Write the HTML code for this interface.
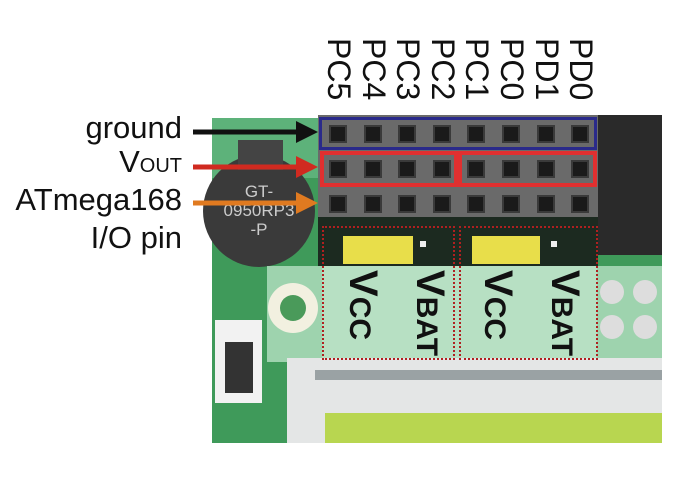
<!DOCTYPE html>
<html><head><style>
body{margin:0;width:700px;height:500px;background:#fff;position:relative;overflow:hidden;font-family:"Liberation Sans",sans-serif}
.a{position:absolute}
.pin{position:absolute;width:14px;height:14px;background:#1a1a1a;border:2px solid #3a3a3a}
.lbl{position:absolute;font-size:31px;color:#111;text-align:right;right:518px;line-height:32px}
.col{position:absolute;top:38px;font-size:32px;line-height:32px;transform-origin:0 0;transform:rotate(90deg);color:#111;white-space:nowrap}
.big{position:absolute;font-weight:bold;font-size:40px;color:#111;transform-origin:0 0;transform:rotate(90deg);white-space:nowrap}
</style></head><body>
<div class="a" style="left:212px;top:118px;width:450px;height:325px;background:#3f9a5a"></div>
<div class="a" style="left:212px;top:118px;width:110px;height:60px;background:#5db27a"></div>
<div class="a" style="left:203px;top:155px;width:112px;height:112px;border-radius:50%;background:#3a3a3a"></div>
<div class="a" style="left:238px;top:140px;width:45px;height:30px;background:#444"></div>
<div class="a" style="left:219px;top:182px;color:#ccc;font-size:17px;line-height:19px;text-align:center;width:80px">GT-<br>0950RP3<br>-P</div>
<div class="a" style="left:318px;top:115px;width:280px;height:102px;background:#6a6a6a"></div>
<div class="a" style="left:598px;top:115px;width:64px;height:140px;background:#2a2a2a"></div>
<div class="a" style="left:318px;top:217px;width:280px;height:50px;background:#1c2a20"></div>
<div class="a" style="left:343px;top:236px;width:70px;height:28px;background:#e8de4a"></div>
<div class="a" style="left:472px;top:236px;width:68px;height:28px;background:#e8de4a"></div>
<div class="a" style="left:420px;top:241px;width:6px;height:6px;background:#eee"></div>
<div class="a" style="left:551px;top:241px;width:6px;height:6px;background:#eee"></div>
<div class="a" style="left:267px;top:266px;width:395px;height:96px;background:#9ed3ae"></div>
<div class="a" style="left:322px;top:266px;width:275px;height:96px;background:#b7e0c3"></div>
<div class="a" style="left:268px;top:283px;width:50px;height:50px;border-radius:50%;background:#f2f0e0"></div>
<div class="a" style="left:280px;top:295px;width:26px;height:26px;border-radius:50%;background:#4a9a5a"></div>
<div class="a" style="left:600px;top:280px;width:24px;height:24px;border-radius:50%;background:#ddd"></div>
<div class="a" style="left:633px;top:280px;width:24px;height:24px;border-radius:50%;background:#ddd"></div>
<div class="a" style="left:600px;top:315px;width:24px;height:24px;border-radius:50%;background:#ddd"></div>
<div class="a" style="left:633px;top:315px;width:24px;height:24px;border-radius:50%;background:#ddd"></div>
<div class="a" style="left:215px;top:320px;width:47px;height:83px;background:#f2f2f2"></div>
<div class="a" style="left:225px;top:342px;width:28px;height:51px;background:#333"></div>
<div class="a" style="left:287px;top:358px;width:375px;height:85px;background:#e4e6e6"></div>
<div class="a" style="left:315px;top:370px;width:347px;height:10px;background:#9aa2a4"></div>
<div class="a" style="left:325px;top:413px;width:337px;height:30px;background:#b8d650"></div>
<div id="pins"></div>
<div class="a" style="left:319px;top:117px;width:272px;height:27px;border:3px solid #2a2a8a"></div>
<div class="a" style="left:320px;top:151px;width:130px;height:28px;border:4px solid #e03030"></div>
<div class="a" style="left:458px;top:151px;width:131px;height:28px;border:4px solid #e03030"></div>
<div class="a" style="left:322px;top:226px;width:129px;height:130px;border:2px dotted #b02020"></div>
<div class="a" style="left:459px;top:226px;width:135px;height:130px;border:2px dotted #b02020"></div>
<div class="big" style="left:385px;top:270px">V<span style="font-size:30px">CC</span></div>
<div class="big" style="left:452px;top:270px">V<span style="font-size:30px">BAT</span></div>
<div class="big" style="left:520px;top:270px">V<span style="font-size:30px">CC</span></div>
<div class="big" style="left:587px;top:270px">V<span style="font-size:30px">BAT</span></div>
<div class="col" style="left:355px">PC5</div>
<div class="col" style="left:390px">PC4</div>
<div class="col" style="left:424px">PC3</div>
<div class="col" style="left:459px">PC2</div>
<div class="col" style="left:493px">PC1</div>
<div class="col" style="left:528px">PC0</div>
<div class="col" style="left:563px">PD1</div>
<div class="col" style="left:597px">PD0</div>
<div class="lbl" style="top:112px">ground</div>
<div class="lbl" style="top:146px">V<span style="font-size:20px">OUT</span></div>
<div class="lbl" style="top:184px">ATmega168</div>
<div class="lbl" style="top:222px">I/O pin</div>
<svg class="a" style="left:0;top:0" width="700" height="500">
<line x1="193" y1="132" x2="300" y2="132" stroke="#111" stroke-width="5"/>
<polygon points="296,121 318,132 296,143" fill="#111"/>
<line x1="193" y1="167" x2="300" y2="167" stroke="#d02a20" stroke-width="5"/>
<polygon points="296,156 318,167 296,178" fill="#d02a20"/>
<line x1="193" y1="203" x2="300" y2="203" stroke="#e07a20" stroke-width="5"/>
<polygon points="296,192 318,203 296,214" fill="#e07a20"/>
</svg>
<script>
var h='';for(var r=0;r<3;r++)for(var c=0;c<8;c++){h+='<div class="pin" style="left:'+(329+c*34.6)+'px;top:'+(125+r*35)+'px"></div>';}
for(var c=0;c<8;c++){h+='<div style="position:absolute;left:'+(346+c*34.6)+'px;top:118px;width:8px;height:99px;background:#5a5a5a;z-index:-1"></div>';}
document.getElementById('pins').innerHTML=h;
</script>
</body></html>
